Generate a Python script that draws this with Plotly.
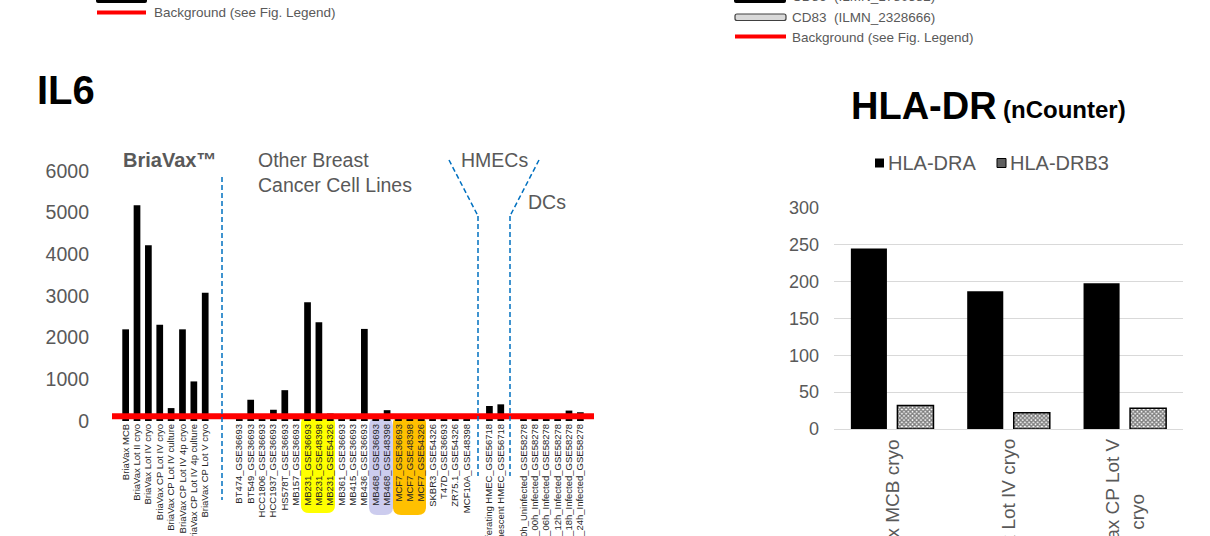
import plotly.graph_objects as go

W, H = 1210, 536

# ---------------- data ----------------
il6_labels = [
    "BriaVax MCB", "BriaVax Lot II cryo", "BriaVax Lot IV cryo", "BriaVax CP Lot IV cryo",
    "BriaVax CP Lot IV culture", "BriaVax CP Lot IV 4p cryo", "BriaVax CP Lot IV 4p culture",
    "BriaVax CP Lot V cryo", "", "",
    "BT474_GSE36693", "BT549_GSE36693", "HCC1806_GSE36693", "HCC1937_GSE36693",
    "HS578T_GSE36693", "MB157_GSE36693", "MB231_GSE36693", "MB231_GSE48398",
    "MB231_GSE54326", "MB361_GSE36693", "MB415_GSE36693", "MB436_GSE36693",
    "MB468_GSE36693", "MB468_GSE48398", "MCF7_GSE36693", "MCF7_GSE48398",
    "MCF7_GSE54326", "SKBR3_GSE54326", "T47D_GSE36693", "ZR75.1_GSE54326",
    "MCF10A_GSE48398", "",
    "Proliferating HMEC_GSE56718", "Senescent HMEC_GSE56718", "",
    "DC_00h_Uninfected_GSE58278", "DC_00h_Infected_GSE58278", "DC_06h_Infected_GSE58278",
    "DC_12h_Infected_GSE58278", "DC_18h_Infected_GSE58278", "DC_24h_Infected_GSE58278",
]
il6_values = [
    2200, 5180, 4220, 2310, 310, 2200, 950, 3080, None, None,
    60, 510, 60, 270, 740, 60, 2850, 2370, 180, 60, 60, 2210,
    60, 260, 60, 160, 80, 60, 60, 60, 60, None,
    360, 400, None,
    60, 60, 60, 60, 250, 210,
]
il6_background = 115
il6_yticks = [0, 1000, 2000, 3000, 4000, 5000, 6000]

hla_categories = ["BriaVax MCB cryo", "BriaVax Lot IV cryo", "BriaVax CP Lot V cryo"]
hla_tick_text = ["BriaVax MCB cryo", "BriaVax Lot IV cryo", "BriaVax CP Lot V<br>cryo"]
hla_dra = [245, 187, 198]
hla_drb3 = [32, 22, 28]
hla_yticks = [0, 50, 100, 150, 200, 250, 300]

# ---------------- helpers ----------------
def fx(x):
    return x / W

def fy(y):
    return 1 - y / H

FONT = "Arial, Liberation Sans, sans-serif"
GRAY = "#595959"

fig = go.Figure()

x_idx = list(range(len(il6_labels)))
fig.add_trace(go.Bar(
    x=x_idx, y=il6_values, width=0.59,
    marker=dict(color="black", line=dict(width=0)),
    xaxis="x", yaxis="y", showlegend=False, hoverinfo="skip",
))
fig.add_trace(go.Scatter(
    x=[-1.2, len(il6_labels) - 1 + 1.2], y=[il6_background, il6_background],
    mode="lines", line=dict(color="#FF0000", width=6),
    xaxis="x", yaxis="y", showlegend=False, hoverinfo="skip",
))

fig.add_trace(go.Bar(
    x=hla_categories, y=hla_dra, width=0.31, offset=-0.355,
    marker=dict(color="black", line=dict(width=0)),
    xaxis="x2", yaxis="y2", showlegend=False, name="HLA-DRA",
))
fig.add_trace(go.Bar(
    x=hla_categories, y=hla_drb3, width=0.31, offset=0.045,
    marker=dict(color="white", line=dict(color="black", width=1.5),
                pattern=dict(shape="x", size=3, solidity=0.7,
                             fgcolor="black", bgcolor="white")),
    xaxis="x2", yaxis="y2", showlegend=False, name="HLA-DRB3",
))

annotations = []

def text(x, y, s, size, color=GRAY, xanchor="left", yanchor="middle", **kw):
    annotations.append(dict(
        x=fx(x), y=fy(y), xref="paper", yref="paper", text=s, showarrow=False,
        xanchor=xanchor, yanchor=yanchor,
        font=dict(family=FONT, size=size, color=color), **kw))

# left panel texts
text(35, 90, "<b>IL6</b>", 40, color="black")
text(169, 160, "<b>BriaVax™</b>", 20, xanchor="center")
text(256, 160, "Other Breast", 19.5)
text(256, 185, "Cancer Cell Lines", 19.5)
text(459, 160, "HMECs", 19.5)
text(526, 202, "DCs", 19.5)

# right panel texts
text(849, 106, "<b>HLA-DR</b>", 38, color="black")
text(1001, 110, "<b>(nCounter)</b>", 24, color="black")
text(886, 163, "HLA-DRA", 20)
text(1008, 163, "HLA-DRB3", 20)

for cat, lab in zip(hla_categories, hla_tick_text):
    annotations.append(dict(
        x=cat, y=fy(437), xref="x2", yref="paper", text=lab, showarrow=False,
        textangle=-90, xanchor="center", yanchor="top", align="center",
        font=dict(family=FONT, size=19, color=GRAY)))

# top clipped legends
text(152, -7, "CD74\u00a0 (ILMN_2379644)", 13.5)
text(152, 12.5, "Background (see Fig. Legend)", 13.5)
text(790, -3, "CD86\u00a0 (ILMN_1780582)", 13.5)
text(790, 17.3, "CD83\u00a0 (ILMN_2328666)", 13.5)
text(790, 37, "Background (see Fig. Legend)", 13.5)

shapes = []

def line(x0, y0, x1, y1, color, width, dash=None):
    d = dict(type="line", xref="paper", yref="paper",
             x0=fx(x0), y0=fy(y0), x1=fx(x1), y1=fy(y1),
             line=dict(color=color, width=width))
    if dash:
        d["line"]["dash"] = dash
    shapes.append(d)

def rrect(x0, y0, x1, y1, r, fill, lc=None, lw=0, layer="below"):
    pts = [
        ("M", (x0 + r, y0)), ("L", (x1 - r, y0)), ("Q", (x1, y0), (x1, y0 + r)),
        ("L", (x1, y1 - r)), ("Q", (x1, y1), (x1 - r, y1)), ("L", (x0 + r, y1)),
        ("Q", (x0, y1), (x0, y1 - r)), ("L", (x0, y0 + r)), ("Q", (x0, y0), (x0 + r, y0)),
    ]
    path = ""
    for cmd, *ps in pts:
        path += cmd + " ".join(f"{fx(p[0]):.6f},{fy(p[1]):.6f}" for p in ps) + " "
    path += "Z"
    shapes.append(dict(type="path", xref="paper", yref="paper", path=path,
                       fillcolor=fill, layer=layer,
                       line=dict(color=lc or fill, width=lw)))

BLUE = "#0070C0"
DASH = "5px,3px"
line(222, 177, 222, 500, BLUE, 1.5, DASH)
line(449, 160, 478, 216, BLUE, 1.5, DASH)
line(478, 216, 478, 476, BLUE, 1.5, DASH)
line(539, 160, 510, 216, BLUE, 1.5, DASH)
line(510, 216, 510, 476, BLUE, 1.5, DASH)

# highlight boxes behind tick labels
rrect(301, 415, 335, 513, 8, "#FFFF00")
rrect(369, 418, 393, 515, 8, "#CCCCEE")
rrect(393, 416, 426, 515, 8, "#FFC000")

# legend swatches for HLA-DR
shapes.append(dict(type="rect", xref="paper", yref="paper",
                   x0=fx(875), x1=fx(884), y0=fy(167.5), y1=fy(158.5),
                   fillcolor="black", line=dict(width=0)))
shapes.append(dict(type="rect", xref="paper", yref="paper",
                   x0=fx(997), x1=fx(1006), y0=fy(167.5), y1=fy(158.5),
                   fillcolor="#606060", line=dict(color="black", width=1)))

# top legend swatches
rrect(96, -4, 147, 3, 2, "black", layer="above")
line(97, 12.5, 146, 12.5, "#FF0000", 4)
rrect(734, -4, 786, 3, 2, "black", layer="above")
rrect(735, 14, 786, 20.5, 2, "#D9D9D9", lc="#404040", lw=1.2, layer="above")
line(735, 36.5, 786, 36.5, "#FF0000", 4)

fig.update_layout(
    width=W, height=H,
    margin=dict(l=0, r=0, t=0, b=0),
    paper_bgcolor="white", plot_bgcolor="rgba(0,0,0,0)",
    barmode="overlay",
    font=dict(family=FONT, color=GRAY),
    showlegend=False,
    xaxis=dict(domain=[fx(112), fx(594)], range=[-1.2, len(il6_labels) - 1 + 1.2],
               tickmode="array", tickvals=x_idx, ticktext=il6_labels, tickangle=-90,
               tickfont=dict(family=FONT, size=9.5, color="#262626"),
               showgrid=False, zeroline=False, showline=False, ticks="",
               anchor="y", automargin=False, fixedrange=True),
    yaxis=dict(domain=[fy(421), fy(171)], range=[0, 6000],
               tickmode="array", tickvals=il6_yticks,
               tickfont=dict(family=FONT, size=19.5, color=GRAY),
               showgrid=False, zeroline=False, showline=False, ticks="",
               ticklabelstandoff=22, anchor="x", automargin=False),
    xaxis2=dict(domain=[fx(834), fx(1183)], range=[-0.5, 2.5],
                showticklabels=False, showgrid=False, zeroline=False,
                showline=False, ticks="", anchor="y2"),
    yaxis2=dict(domain=[fy(429), fy(208)], range=[0, 300],
                tickmode="array", tickvals=hla_yticks,
                tickfont=dict(family=FONT, size=18, color=GRAY),
                showgrid=True, gridcolor="#D9D9D9", gridwidth=1,
                zeroline=True, zerolinecolor="#D9D9D9", zerolinewidth=1,
                showline=False, ticks="", ticklabelstandoff=14,
                anchor="x2", automargin=False),
    annotations=annotations,
    shapes=shapes,
)

fig.write_html("out.html",
               config={"displayModeBar": False},
               post_script="document.body.style.margin='0';document.body.style.overflow='hidden';")
